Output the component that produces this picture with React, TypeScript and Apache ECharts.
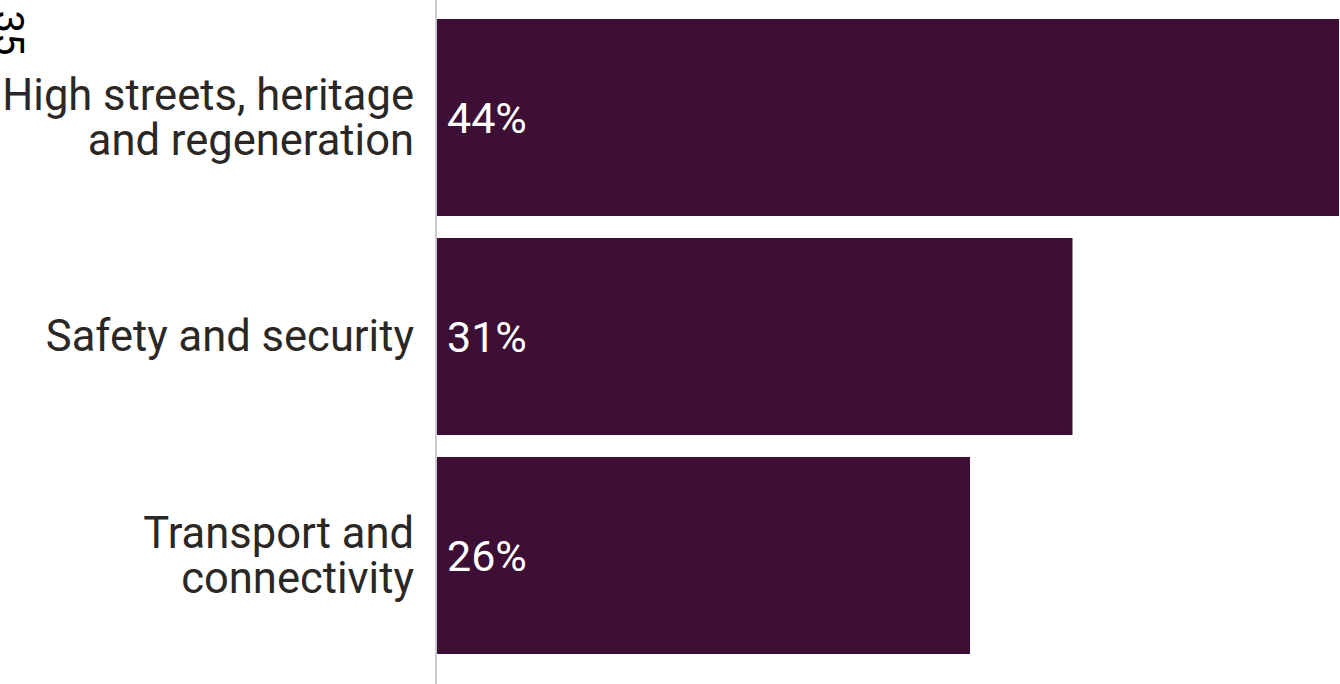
import React, { useEffect, useRef } from "react";
import * as echarts from "echarts";

const categories = ["High streets, heritage\nand regeneration", "Safety and security", "Transport and\nconnectivity"];
const values = [44, 31, 26];
const axisNameText = "35";

export default function App() {
  const ref = useRef<HTMLDivElement>(null);
  useEffect(() => {
    const chart = echarts.init(ref.current!, null, { renderer: "svg" });
    chart.setOption({
      animation: false,
      grid: { left: 437, right: 1, top: 8, height: 657, outerBoundsMode: "none", containLabel: false },
      xAxis: { type: "value", min: 0, max: 44, show: false },
      yAxis: {
        type: "category",
        data: categories,
        inverse: true,
        axisLine: { show: false },
        axisTick: { show: false },
        axisLabel: {
          margin: 23,
          fontFamily: "Roboto",
          fontSize: 43.5,
          lineHeight: 45,
          verticalAlign: "middle",
          padding: [0, 0, 16, 0],
          color: "#2b2724",
          align: "right",
        },
      },
      graphic: [
        { type: "line", shape: { x1: 436, y1: 0, x2: 436, y2: 684 }, style: { stroke: "#cccccc", lineWidth: 2 }, z: 10 },
        {
          type: "text", x: 8, y: 33, rotation: -Math.PI / 2,
          style: { text: axisNameText, fontFamily: "Roboto", fontSize: 40, fill: "#000", align: "center", verticalAlign: "middle" },
        },
      ],
      series: [
        {
          type: "bar",
          data: values,
          barCategoryGap: "10%",
          itemStyle: { color: "#3e0f34" },
          label: {
            show: true,
            position: "insideLeft",
            distance: 10,
            formatter: "{c}%",
            color: "#ffffff",
            fontFamily: "Roboto",
            fontSize: 43,
          },
        },
      ],
    });
    return () => chart.dispose();
  }, []);
  return <div ref={ref} style={{ position: "absolute", left: 0, top: 0, width: 1340, height: 684 }} />;
}
